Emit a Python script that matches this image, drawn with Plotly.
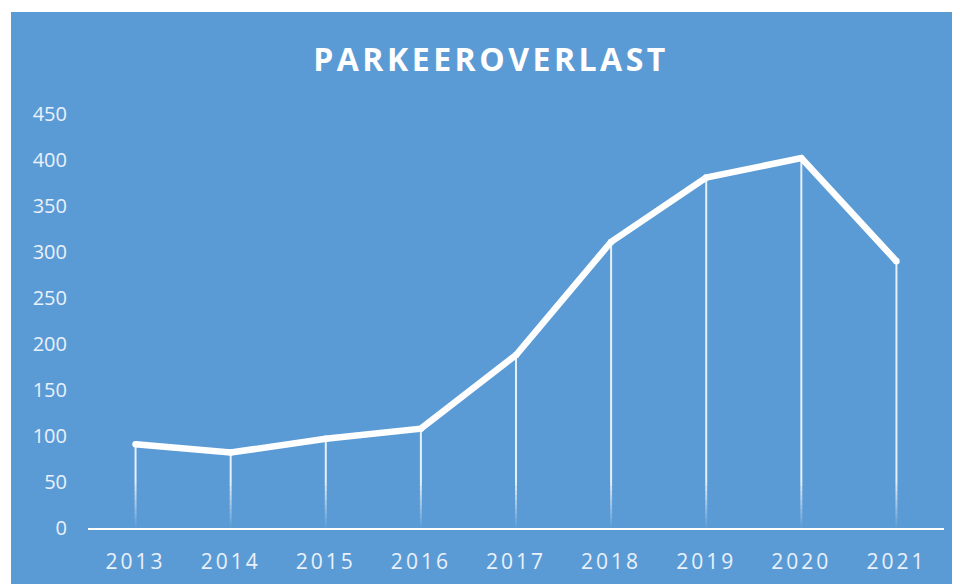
import plotly.graph_objects as go

years = ["2013", "2014", "2015", "2016", "2017", "2018", "2019", "2020", "2021"]
meldingen = [91, 82, 97, 108, 188, 311, 381, 402, 290]
y_ticks = [0, 50, 100, 150, 200, 250, 300, 350, 400, 450]

blue = "#5B9BD5"
W, H = 960, 584
off = 8  # page body margin
ml, mr, mt, mb = 88 - off, 16 + off, 114 - off, 56 + off
pw, ph = W - ml - mr, H - mt - mb

fig = go.Figure()

# drop lines, full part then fading toward the axis
fade_top = 50
steps = 10
xs, ys = [], []
for x, v in zip(years, meldingen):
    xs += [x, x, None]
    ys += [v, fade_top, None]
fig.add_trace(go.Scatter(x=xs, y=ys, mode="lines", line=dict(color="rgba(255,255,255,0.85)", width=2),
                         hoverinfo="skip", showlegend=False))
for k in range(steps):
    top = fade_top * (steps - k) / steps
    bot = fade_top * (steps - k - 1) / steps
    a = 0.85 * (steps - k - 0.5) / steps
    xs, ys = [], []
    for x in years:
        xs += [x, x, None]
        ys += [top, bot, None]
    fig.add_trace(go.Scatter(x=xs, y=ys, mode="lines", line=dict(color=f"rgba(255,255,255,{a:.3f})", width=2),
                             hoverinfo="skip", showlegend=False))

fig.add_trace(go.Scatter(x=years, y=meldingen, mode="lines+markers",
                         line=dict(color="white", width=6.5),
                         marker=dict(color="white", size=6.5),
                         showlegend=False))

def px_x(p):
    return (p - off - ml) / pw

def px_y(p):
    return (H - mb - (p - off)) / ph

fig.add_shape(type="rect", xref="paper", yref="paper", layer="below",
              x0=px_x(11), x1=px_x(W + 20), y0=px_y(H + 20), y1=px_y(12),
              fillcolor=blue, line=dict(width=0))

spaced = [f'<span style="letter-spacing:3px">{y}</span>' for y in years]

fig.update_layout(
    width=W, height=H,
    margin=dict(l=ml, r=mr, t=mt, b=mb),
    paper_bgcolor="white",
    plot_bgcolor="rgba(0,0,0,0)",
    title=dict(text='<span style="letter-spacing:3.5px"><b>PARKEEROVERLAST</b></span>',
               x=(491 - off) / W, xref="container", xanchor="center",
               y=1 - (60 - off) / H, yref="container", yanchor="middle",
               font=dict(family="Open Sans", size=32, color="white")),
    font=dict(family="Open Sans", color="#EAF1FA"),
)
fig.update_xaxes(type="category", range=[-0.5, 8.5], showgrid=False, zeroline=False,
                 showline=True, linecolor="white", linewidth=2, ticks="",
                 tickvals=years, ticktext=spaced,
                 tickfont=dict(size=21, color="#EAF1FA"), ticklabelstandoff=14)
fig.update_yaxes(range=[0, 450], tickvals=y_ticks, showgrid=False, zeroline=False,
                 showline=False, ticks="", tickfont=dict(size=20, color="#EAF1FA"),
                 ticklabelstandoff=20)

fig.write_html("out.html")
